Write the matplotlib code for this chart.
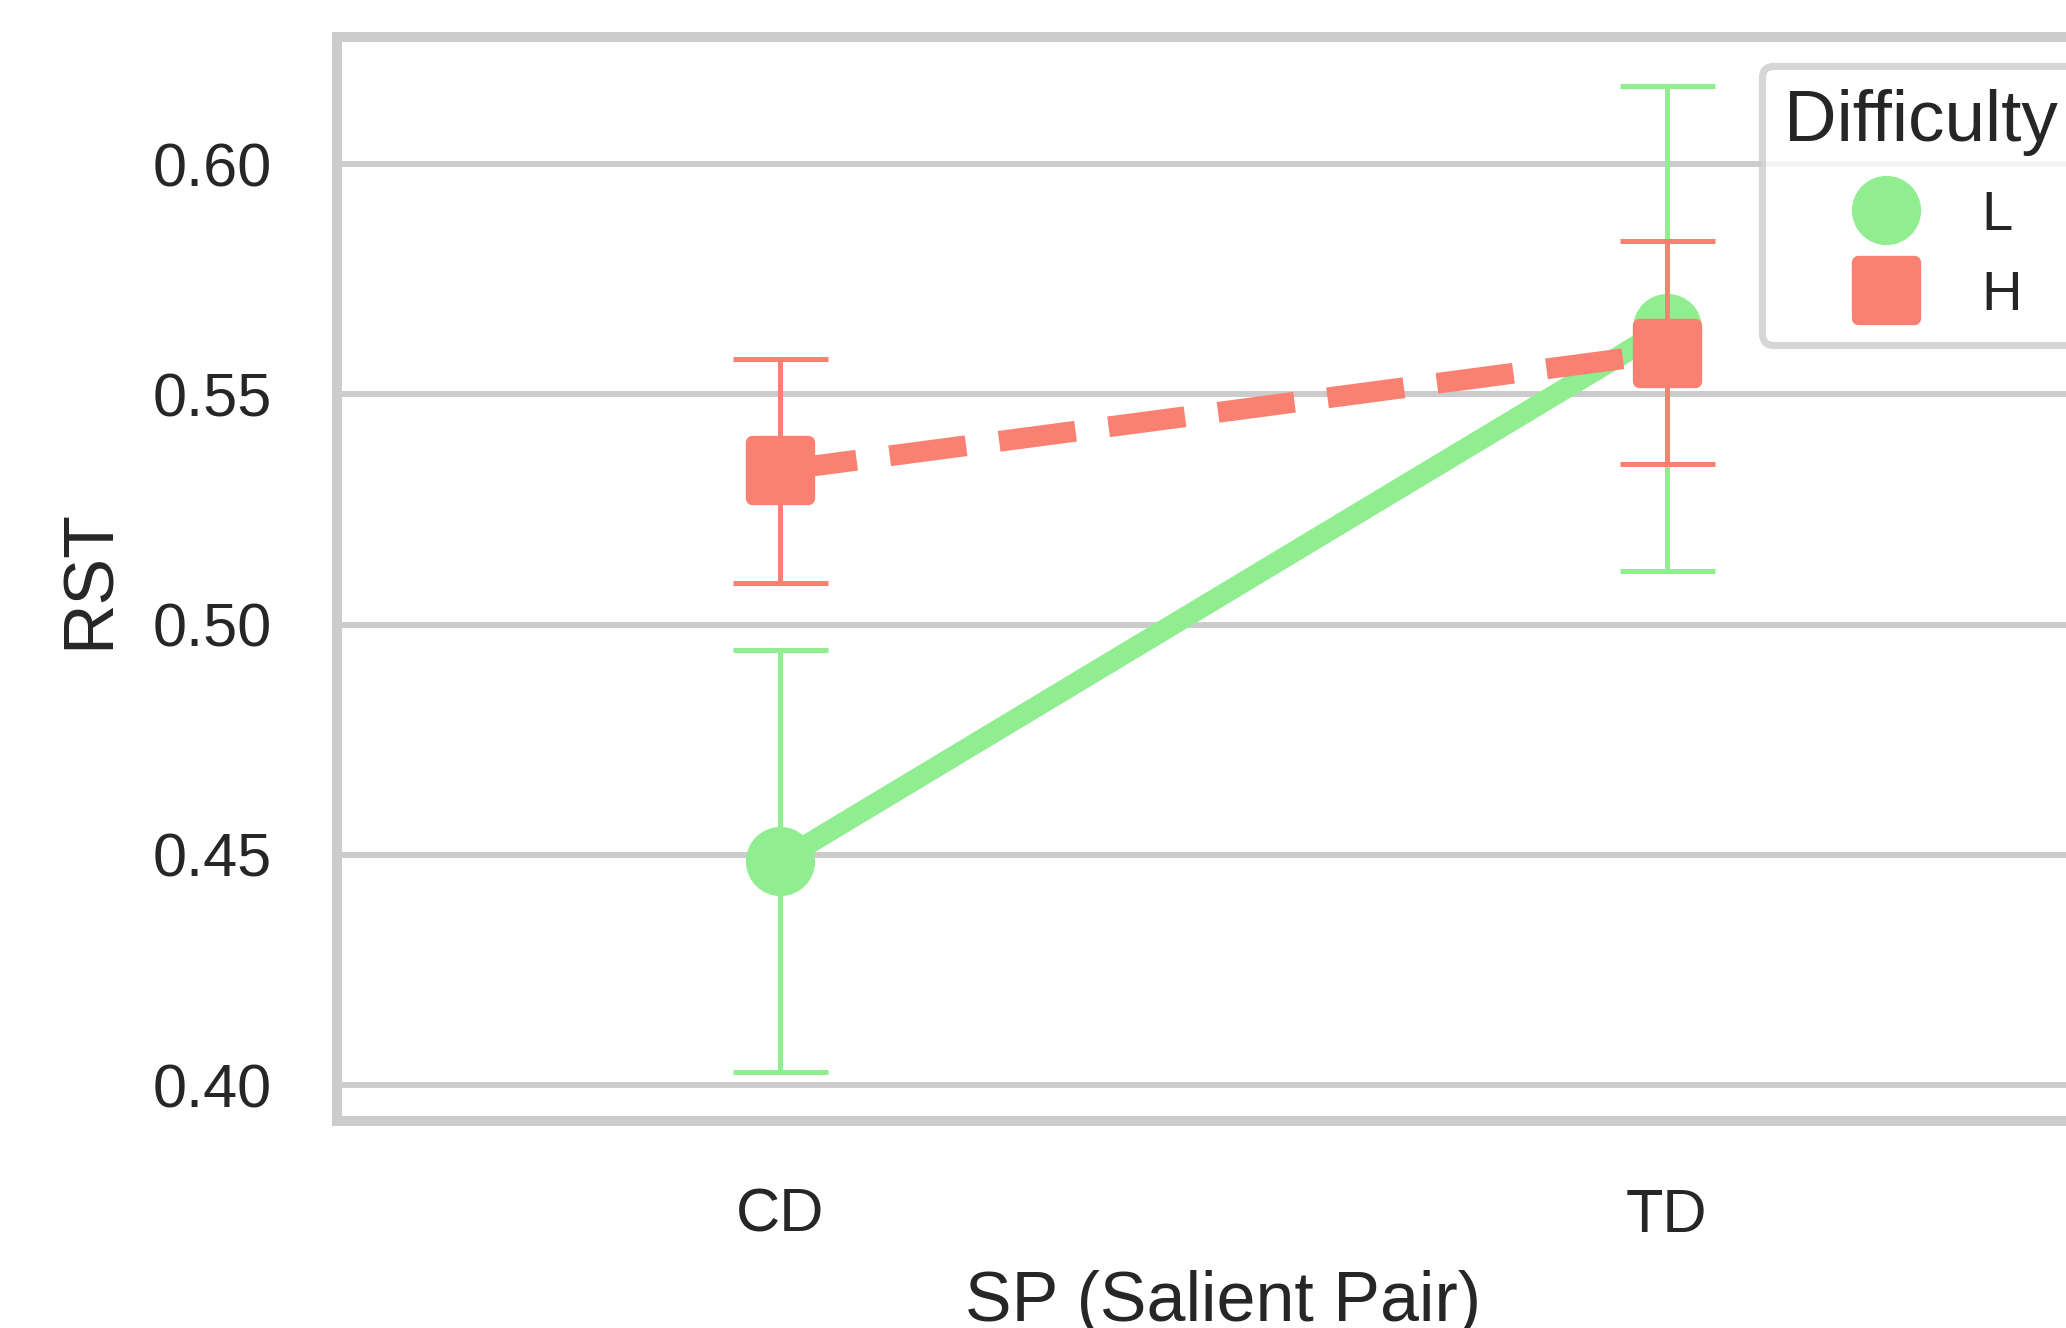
import numpy as np
import matplotlib
matplotlib.use("Agg")
import matplotlib.pyplot as plt
from matplotlib.lines import Line2D
from matplotlib.markers import MarkerStyle

plt.rcParams['font.family'] = ['Liberation Sans', 'DejaVu Sans']

categories = ['CD', 'TD']  # SP levels
levels = ['L', 'H']  # difficulty
colors = {'L': '#90EE90', 'H': '#FA8072'}
markers = {'L': 'o', 'H': 's'}
styles = {'L': '-', 'H': '--'}

# point estimates and CI bounds
mean_L = [0.4487, 0.5645]
low_L = [0.4029, 0.5116]
high_L = [0.4944, 0.6169]
mean_H = [0.5335, 0.5590]
low_H = [0.5090, 0.5348]
high_H = [0.5577, 0.5834]

means = {'L': mean_L, 'H': mean_H}
lows = {'L': low_L, 'H': low_H}
highs = {'L': high_L, 'H': high_H}

text_col = '#262626'
grey = '#cccccc'

fig = plt.figure(figsize=(2066 / 300, 1328 / 300), dpi=300)
ax = fig.add_axes([0.1631, 0.1559, 1.0213 - 0.1631, 0.9721 - 0.1559])

x = np.arange(len(categories))
for lv in levels:
    m = np.array(means[lv])
    yerr = [m - np.array(lows[lv]), np.array(highs[lv]) - m]
    eb = ax.errorbar(x, m, yerr=yerr, fmt='none', ecolor=colors[lv],
                     elinewidth=1.2, capsize=11.4, capthick=1.2)
    for c in eb[1]:
        c.set_solid_capstyle('round')
        c.set_dash_capstyle('round')
    for c in eb[2]:
        c.set_capstyle('round')
    ax.plot(x, m, color=colors[lv], ls=styles[lv], lw=5,
            marker=MarkerStyle(markers[lv], joinstyle='round'),
            ms=13.4, mew=3.2, mec=colors[lv])

ax.set_xlim(-0.5, 1.5)
ax.set_xticks(x)
ax.set_xticklabels(categories)
ax.set_yticks([0.40, 0.45, 0.50, 0.55, 0.60])
ax.set_yticklabels(['0.40', '0.45', '0.50', '0.55', '0.60'])
ax.yaxis.grid(True, color=grey, lw=1.44)
ax.xaxis.grid(False)
ax.set_axisbelow(True)
for s in ax.spines.values():
    s.set_color(grey)
    s.set_linewidth(2.4)
ax.tick_params(length=0, labelsize=14.7, labelcolor=text_col)
ax.tick_params(axis='y', pad=15.6)
ax.tick_params(axis='x', pad=16)
ax.set_xlabel('SP (Salient Pair)', fontsize=16.8, color=text_col, labelpad=6)
ax.set_ylabel('RST', fontsize=16.8, color=text_col, labelpad=7)

handles = [Line2D([], [], ls='none',
                  marker=MarkerStyle(markers[lv], joinstyle='round'),
                  ms=13.4, mew=3.2, color=colors[lv], mec=colors[lv])
           for lv in levels]
leg = ax.legend(handles, levels, title='Difficulty', loc='upper left',
                bbox_to_anchor=(1762 / 2066, 1 - 66 / 1328),
                bbox_transform=fig.transFigure, fontsize=13.5,
                title_fontsize=17.5, framealpha=0.8, edgecolor=grey,
                borderaxespad=0, handlelength=2.3, handletextpad=0.55)
leg._legend_box.sep += 1.5
leg.get_frame().set_linewidth(1.7)
for t in leg.get_texts():
    t.set_color(text_col)
leg.get_title().set_color(text_col)

fig.savefig('out.png', dpi=300)
